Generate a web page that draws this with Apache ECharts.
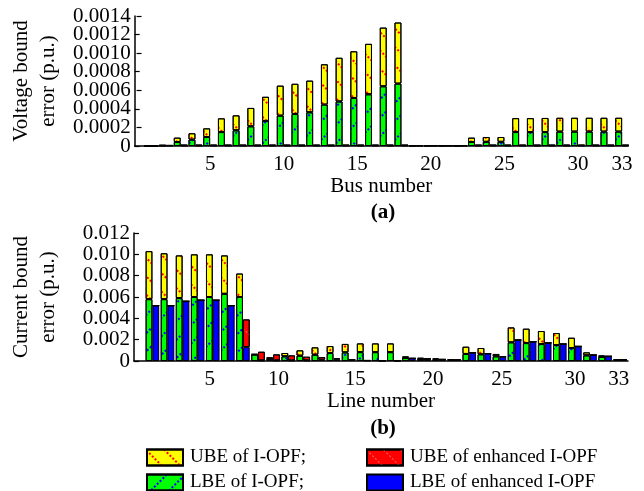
<!DOCTYPE html>
<html>
<head>
<meta charset="utf-8">
<script src="https://cdn.jsdelivr.net/npm/echarts@6/dist/echarts.min.js"></script>
<style>
  html, body { margin: 0; padding: 0; background: #fff; }
  #chart { width: 644px; height: 491px; }
</style>
</head>
<body>
<div id="chart"></div>
<script>
// (a) voltage bound error, buses 1..33
const busNumbers = [1, 2, 3, 4, 5, 6, 7, 8, 9, 10, 11, 12, 13, 14, 15, 16, 17,
  18, 19, 20, 21, 22, 23, 24, 25, 26, 27, 28, 29, 30, 31, 32, 33]
const busLbeIopf = [0, 0.000005, 0.000043, 0.000069, 0.000097, 0.00015, 0.000169, 0.000212,
  0.00027, 0.000327, 0.000345, 0.000363, 0.000446, 0.00048, 0.000517, 0.000557, 0.000643,
  0.000672, 0.000003, 0.000003, 0.000003, 0.000003, 0.000043, 0.000045, 0.000045,
  0.00015, 0.00015, 0.00015, 0.000155, 0.000155, 0.000155, 0.000155, 0.000155]
const busUbeIopf = [0, 0.000005, 0.000047, 0.000068, 0.000093, 0.000148, 0.000161, 0.000198,
  0.00026, 0.000323, 0.000325, 0.000341, 0.000434, 0.00047, 0.000503, 0.000543, 0.000632,
  0.000658, 0.000003, 0.000003, 0.000003, 0.000003, 0.000047, 0.000052, 0.000052,
  0.00015, 0.00015, 0.000152, 0.000149, 0.000149, 0.000149, 0.000149, 0.000149]
const busLbeEnh = [0, 0.000004, 0.000005, 0.000005, 0.000005, 0.000005, 0.000005, 0.000005,
  0.000005, 0.000005, 0.000005, 0.000005, 0.000005, 0.000005, 0.000005, 0.000005, 0.000005,
  0.000005, 0.000003, 0.000003, 0.000003, 0.000003, 0.000005, 0.000005, 0.000005,
  0.000005, 0.000005, 0.000005, 0.000005, 0.000005, 0.000005, 0.000005, 0.000005]
const busUbeEnh = [0, 0.000004, 0.000007, 0.000007, 0.000007, 0.000007, 0.000007, 0.000007,
  0.000007, 0.000007, 0.000007, 0.000007, 0.000007, 0.000007, 0.000007, 0.000007, 0.000007,
  0.000007, 0.000003, 0.000003, 0.000003, 0.000003, 0.000007, 0.000007, 0.000007,
  0.000007, 0.000007, 0.000007, 0.000007, 0.000007, 0.000007, 0.000007, 0.000007]
const busTicks = [5, 10, 15, 20, 25, 30, 33]
const voltageTicks = [0, 0.0002, 0.0004, 0.0006, 0.0008, 0.0010, 0.0012, 0.0014]

// (b) current bound error, lines 1..32
const lineNumbers = [1, 2, 3, 4, 5, 6, 7, 8, 9, 10, 11, 12, 13, 14, 15, 16,
  17, 18, 19, 20, 21, 22, 23, 24, 25, 26, 27, 28, 29, 30, 31, 32]
const lineLbeIopf = [0.0058, 0.0058, 0.0059, 0.006, 0.006, 0.0063, 0.006, 0.0006,
  0.0002, 0.00044, 0.0005, 0.00059, 0.00075, 0.00081, 0.00083, 0.00083,
  0.00083, 0.0003, 0.0002, 0.00015, 0.0001, 0.00066, 0.00063, 0.00044,
  0.00175, 0.00168, 0.00159, 0.0015, 0.00122, 0.00053, 0.00038, 0.0001]
const lineUbeIopf = [0.0045, 0.0043, 0.004, 0.004, 0.004, 0.0036, 0.0022, 0.00005,
  0.00015, 0.00031, 0.0005, 0.00069, 0.00065, 0.00079, 0.00082, 0.00082,
  0.00082, 0.00013, 0.0001, 0.00008, 0.00005, 0.00068, 0.00059, 0.00022,
  0.0014, 0.00135, 0.00122, 0.00112, 0.00096, 0.00028, 0.00015, 0.00005]
const lineLbeEnh = [0.0052, 0.0052, 0.0056, 0.0057, 0.0057, 0.0052, 0.0013, 0.00005,
  0.00005, 0.00005, 0.00005, 0.00012, 0.00015, 0.0001, 0.00005, 0.00003,
  0.00003, 0.00025, 0.0002, 0.00015, 0.0001, 0.00078, 0.0007, 0.0004,
  0.00197, 0.00181, 0.0017, 0.00159, 0.00137, 0.00056, 0.00044, 0.00012]
const lineUbeEnh = [0, 0, 0, 0, 0, 0, 0.0026, 0.00082,
  0.00057, 0.00048, 0.00035, 0.00025, 0.0001, 0.00002, 0, 0,
  0, 0, 0, 0, 0, 0, 0, 0.00003,
  0, 0, 0, 0, 0, 0, 0, 0]
const currentTicks = [0, 0.002, 0.004, 0.006, 0.008, 0.010, 0.012]
const lineTickLabels = ['5', '10', '15', '20', '25', '30', '33']
// where the printed line-axis labels sit (they do not line up with the bars)
const lineTickAt = [4.8, 9.35, 14.45, 19.6, 24.15, 29.0, 31.9]

const FONT = 'Liberation Serif'
const names = ['UBE of I-OPF;', 'LBE of I-OPF;', 'UBE of enhanced I-OPF', 'LBE of enhanced I-OPF']

const decalYellow = { symbol: 'rect', color: '#ff0000', dashArrayX: [2, 2], dashArrayY: [1.5, 11], rotation: Math.PI / 4, symbolSize: 1 }
const decalGreen = { symbol: 'rect', color: '#0000ff', dashArrayX: [2, 2], dashArrayY: [1.5, 11], rotation: -Math.PI / 4, symbolSize: 1 }
const decalRed = { symbol: 'rect', color: '#ff7070', dashArrayX: [2, 2], dashArrayY: [1, 11], rotation: Math.PI / 4, symbolSize: 1 }

// rows are [error, position]: the error column comes first so that it is
// the one ECharts stacks (on a value base axis it stacks the first number column)
function rows(xs, ys) {
  return xs.map((x, i) => [ys[i], x])
}

function barSeries(name, stack, color, decal, axis, xs, ys, gap) {
  const s = {
    name: name,
    type: 'bar',
    stack: stack,
    xAxisIndex: axis,
    yAxisIndex: axis,
    encode: { x: 1, y: 0 },
    barGap: '0%',
    barCategoryGap: gap,
    itemStyle: { color: color, borderColor: '#000', borderWidth: 1 },
    emphasis: { disabled: true },
    data: rows(xs, ys)
  }
  if (decal) s.itemStyle.decal = decal
  return s
}

function legendItem(name, left, top) {
  return {
    left: left, top: top, icon: 'rect',
    itemWidth: 36, itemHeight: 16,
    selectedMode: false,
    data: [name],
    textStyle: { color: '#000', fontFamily: FONT, fontSize: 19, padding: [0, 0, 0, 2] }
  }
}

const axisLine = { show: true, onZero: false, lineStyle: { color: '#000', width: 1.5 } }
const tickLabel = { color: '#000', fontFamily: FONT, fontSize: 21 }
const titleText = { color: '#000', fontFamily: FONT, fontSize: 21 }
const yTick = { show: true, inside: true, length: 5, lineStyle: { color: '#000', width: 1.2 } }

// the voltage labels are packed tighter than ECharts allows on one axis,
// so every other one goes on a second, line-less axis over the first
const voltageTicksA = voltageTicks.filter((v, i) => i % 2 === 0)
const voltageTicksB = voltageTicks.filter((v, i) => i % 2 === 1)
const voltageFormat = v => v === 0 ? '0' : v.toFixed(4)

function voltageAxis(ticks, main) {
  const ax = {
    gridIndex: 0, type: 'value', position: 'left', offset: 0, min: 0, max: 0.0014,
    axisLine: main ? axisLine : { show: false },
    axisTick: Object.assign({ customValues: ticks }, yTick),
    splitLine: { show: false },
    axisLabel: Object.assign({
      customValues: ticks, margin: 4, showMinLabel: true, showMaxLabel: true, formatter: voltageFormat
    }, tickLabel)
  }
  if (main) {
    Object.assign(ax, {
      name: 'Voltage bound\nerror (p.u.)', nameLocation: 'middle', nameRotate: 90, nameGap: 72,
      nameTextStyle: Object.assign({ lineHeight: 27 }, titleText)
    })
  }
  return ax
}

const chart = echarts.init(document.getElementById('chart'))
chart.setOption({
  animation: false,
  backgroundColor: '#fff',
  title: [
    { text: '(a)', left: 378, top: 197, textAlign: 'center', textStyle: { color: '#000', fontFamily: FONT, fontSize: 21, fontWeight: 'bold' } },
    { text: '(b)', left: 378, top: 413, textAlign: 'center', textStyle: { color: '#000', fontFamily: FONT, fontSize: 21, fontWeight: 'bold' } }
  ],
  legend: [
    legendItem(names[0], 141, 443),
    legendItem(names[1], 141, 468),
    legendItem(names[2], 361, 443),
    legendItem(names[3], 361, 468)
  ],
  grid: [
    { left: 127, top: 16, width: 501, height: 130 },
    { left: 127, top: 233, width: 501, height: 128 }
  ],
  xAxis: [
    {
      gridIndex: 0, type: 'value', min: -0.13, max: 33.4,
      name: 'Bus number', nameLocation: 'middle', nameGap: 26, nameTextStyle: titleText,
      axisLine: axisLine, axisTick: { show: false }, splitLine: { show: false },
      axisLabel: Object.assign({ customValues: busTicks, margin: 8 }, tickLabel)
    },
    {
      gridIndex: 1, type: 'value', min: -0.22, max: 32.52,
      name: 'Line number', nameLocation: 'middle', nameGap: 27, nameTextStyle: titleText,
      axisLine: axisLine, axisTick: { show: false }, splitLine: { show: false },
      axisLabel: Object.assign({
        customValues: lineTickAt, margin: 8,
        formatter: v => lineTickLabels[lineTickAt.indexOf(v)]
      }, tickLabel)
    }
  ],
  yAxis: [
    voltageAxis(voltageTicksA, true),
    {
      gridIndex: 1, type: 'value', min: 0, max: 0.012,
      name: 'Current bound\nerror (p.u.)', nameLocation: 'middle', nameRotate: 90, nameGap: 72,
      nameTextStyle: Object.assign({ lineHeight: 27 }, titleText),
      axisLine: axisLine,
      axisTick: Object.assign({ customValues: currentTicks }, yTick),
      splitLine: { show: false },
      axisLabel: Object.assign({
        customValues: currentTicks, margin: 4, showMinLabel: true, showMaxLabel: true,
        formatter: v => v === 0 ? '0' : v.toFixed(3)
      }, tickLabel)
    },
    voltageAxis(voltageTicksB, false)
  ],
  series: [
    barSeries(names[1], 'iopfA', '#00ff00', decalGreen, 0, busNumbers, busLbeIopf, '6%'),
    barSeries(names[0], 'iopfA', '#ffff00', decalYellow, 0, busNumbers, busUbeIopf, '6%'),
    barSeries(names[3], 'enhA', '#0000ff', null, 0, busNumbers, busLbeEnh, '6%'),
    barSeries(names[2], 'enhA', '#ff0000', decalRed, 0, busNumbers, busUbeEnh, '6%'),
    barSeries(names[1], 'iopfB', '#00ff00', decalGreen, 1, lineNumbers, lineLbeIopf, '10%'),
    barSeries(names[0], 'iopfB', '#ffff00', decalYellow, 1, lineNumbers, lineUbeIopf, '10%'),
    barSeries(names[3], 'enhB', '#0000ff', null, 1, lineNumbers, lineLbeEnh, '10%'),
    barSeries(names[2], 'enhB', '#ff0000', decalRed, 1, lineNumbers, lineUbeEnh, '10%')
  ]
})
</script>
</body>
</html>
